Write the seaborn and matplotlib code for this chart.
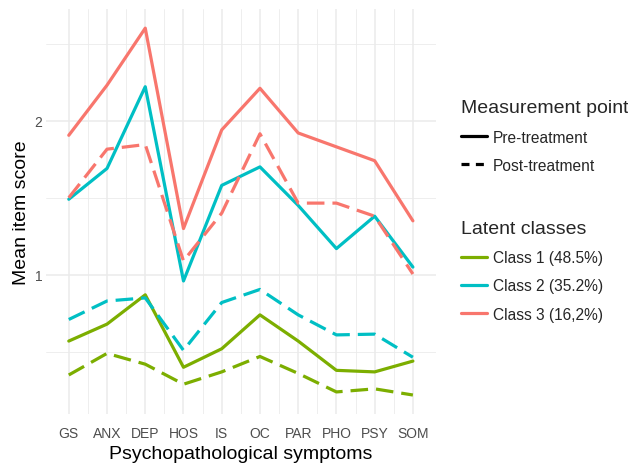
import matplotlib
matplotlib.use('Agg')
import matplotlib.pyplot as plt
from matplotlib.lines import Line2D
from matplotlib.ticker import FixedLocator
import seaborn as sns
import pandas as pd

symptoms = ['GS', 'ANX', 'DEP', 'HOS', 'IS', 'OC', 'PAR', 'PHO', 'PSY', 'SOM']
class_labels = ['Class 1 (48.5%)', 'Class 2 (35.2%)', 'Class 3 (16,2%)']
time_labels = ['Pre-treatment', 'Post-treatment']

class1_pre = [0.57, 0.68, 0.87, 0.40, 0.52, 0.74, 0.57, 0.38, 0.37, 0.44]
class1_post = [0.35, 0.49, 0.42, 0.29, 0.37, 0.47, 0.36, 0.24, 0.26, 0.22]
class2_pre = [1.49, 1.69, 2.22, 0.96, 1.58, 1.70, 1.45, 1.17, 1.38, 1.05]
class2_post = [0.71, 0.83, 0.85, 0.51, 0.82, 0.905, 0.74, 0.61, 0.615, 0.465]
class3_pre = [1.905, 2.23, 2.60, 1.30, 1.94, 2.21, 1.92, 1.83, 1.74, 1.35]
class3_post = [1.50, 1.815, 1.845, 1.09, 1.40, 1.915, 1.465, 1.465, 1.38, 1.005]

colors = ['#7CAE00', '#00BFC4', '#F8766D']

series = {
    (class_labels[0], time_labels[0]): class1_pre,
    (class_labels[0], time_labels[1]): class1_post,
    (class_labels[1], time_labels[0]): class2_pre,
    (class_labels[1], time_labels[1]): class2_post,
    (class_labels[2], time_labels[0]): class3_pre,
    (class_labels[2], time_labels[1]): class3_post,
}
rows = []
for (cls, tp), vals in series.items():
    for s, v in zip(symptoms, vals):
        rows.append({'symptom': s, 'score': v, 'cls': cls, 'time': tp})
df = pd.DataFrame(rows)

sns.set_style('white')
plt.rcParams['font.family'] = ['Liberation Sans', 'DejaVu Sans']

fig = plt.figure(figsize=(6.28, 4.64), dpi=100)
ax = fig.add_axes([0.073, 0.106, 0.621, 0.872])

dash = (5.5, 2.5)
sns.lineplot(
    data=df, x='symptom', y='score', hue='cls', style='time',
    hue_order=class_labels, style_order=time_labels,
    palette=colors, dashes={'Pre-treatment': '', 'Post-treatment': dash},
    sort=False, estimator=None, linewidth=2.3, legend=False, ax=ax,
)

ax.set_xlim(-0.6, len(symptoms) - 0.4)
ax.set_ylim(0.098, 2.723)
ax.set_yticks([1, 2])
ax.set_yticklabels(['1', '2'])
ax.yaxis.set_minor_locator(FixedLocator([0.5, 1.5, 2.5]))
ax.xaxis.set_minor_locator(FixedLocator([i + 0.5 for i in range(len(symptoms) - 1)]))
ax.grid(True, which='major', color='#EBEBEB', linewidth=1.1)
ax.grid(True, which='minor', color='#EBEBEB', linewidth=0.6)
ax.set_axisbelow(True)
for sp in ax.spines.values():
    sp.set_visible(False)
ax.tick_params(which='both', length=0, labelsize=10, colors='#4D4D4D')
ax.tick_params(axis='x', pad=8.5)
ax.tick_params(axis='y', pad=2.5)
ax.set_xlabel('Psychopathological symptoms', fontsize=14, color='black', labelpad=4)
ax.set_ylabel('Mean item score', fontsize=14, color='black', labelpad=3)

# legends
leg_kw = dict(loc='upper left', frameon=False, fontsize=11.2, title_fontsize=14,
              handlelength=1.7, labelspacing=0.85, handletextpad=0.35, borderaxespad=0)

time_handles = [Line2D([], [], color='black', lw=2.3),
                Line2D([], [], color='black', lw=2.3, dashes=(2.5, 2))]
leg1 = fig.legend(time_handles, time_labels, title='Measurement point',
                  bbox_to_anchor=(0.724, 0.797), **leg_kw)
leg1._legend_box.align = 'left'

class_handles = [Line2D([], [], color=c, lw=2.3) for c in colors]
leg2 = fig.legend(class_handles, class_labels, title='Latent classes',
                  bbox_to_anchor=(0.724, 0.537), **leg_kw)
leg2._legend_box.align = 'left'

fig.savefig('out.png', dpi=100)
